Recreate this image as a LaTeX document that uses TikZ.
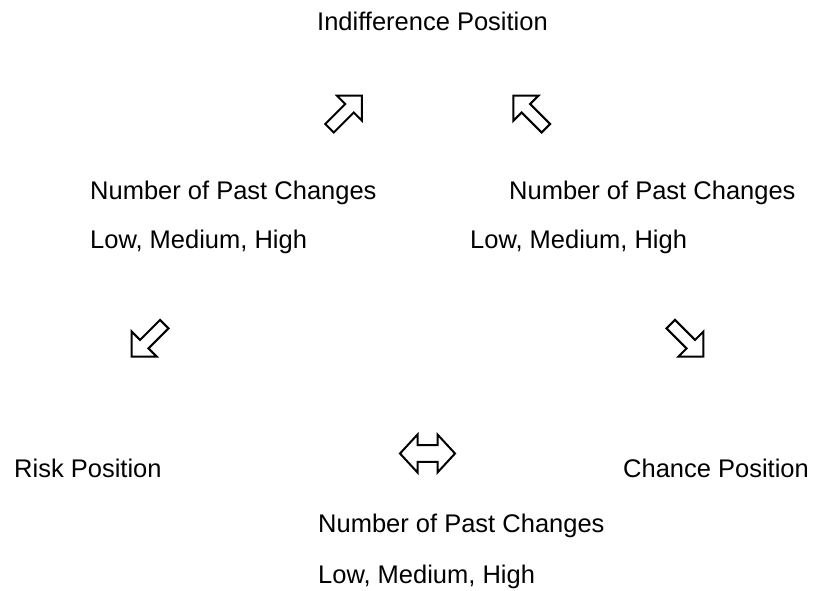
\documentclass[tikz,border=0pt]{standalone}
\usepackage{fontspec}
\setmainfont{Liberation Sans}
\tikzset{
  lbl/.style={anchor=base west, inner sep=0pt, font=\fontsize{25.5}{30}\selectfont},
  outline/.style={draw=black, line width=2pt, line join=miter, fill=white},
  pics/barrow/.style={code={
    \draw[outline] (-23,-6) -- (5.3,-6) -- (5.3,-17.7) -- (23,0) -- (5.3,17.7) -- (5.3,6) -- (-23,6) -- cycle;
  }},
  pics/dblarrow/.style={code={
    \draw[outline] (-27.5,0) -- (-10,-19) -- (-10,-8.3) -- (10,-8.3) -- (10,-19) -- (27.5,0) -- (10,19) -- (10,8.3) -- (-10,8.3) -- (-10,19) -- cycle;
  }}
}
\begin{document}
\begin{tikzpicture}[x=1pt,y=-1pt]
\useasboundingbox (0,0) rectangle (816,590);
\node[lbl] (indiff) at (317,30) {Indifference Position};
\node[lbl] (numL) at (90,199) {Number of Past Changes};
\node[lbl] (lowL) at (90,248) {Low, Medium, High};
\node[lbl] (numR) at (509,199) {Number of Past Changes};
\node[lbl] (lowR) at (470,248) {Low, Medium, High};
\node[lbl] (risk) at (14,477) {Risk Position};
\node[lbl] (chance) at (623,477) {Chance Position};
\node[lbl] (numB) at (318,532) {Number of Past Changes};
\node[lbl] (lowB) at (318,583) {Low, Medium, High};
\pic[rotate=45] at (345.7,112) {barrow};
\pic[rotate=135] at (529.6,112) {barrow};
\pic[rotate=225] at (148,340.4) {barrow};
\pic[rotate=-45] at (687,340.4) {barrow};
\pic at (427.5,453.5) {dblarrow};
\end{tikzpicture}
\end{document}
